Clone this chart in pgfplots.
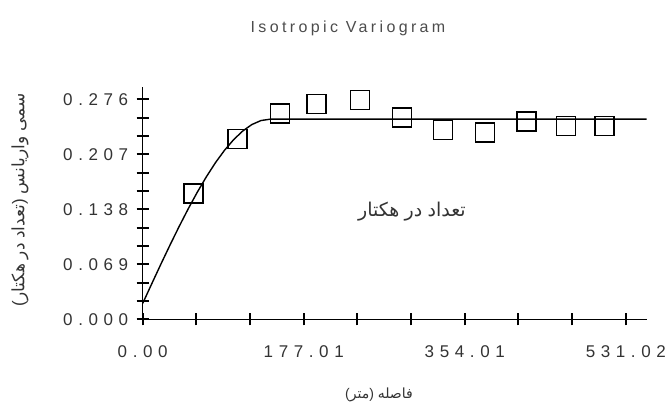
\documentclass[border=0pt]{standalone}
\usepackage{fontspec}
\setmainfont{Liberation Sans}
\newfontfamily\ar[Script=Arabic]{DejaVu Sans}
\newfontfamily\tickfont[LetterSpace=33]{Liberation Sans}
\newfontfamily\titlefont[LetterSpace=21]{Liberation Sans}
\usepackage{pgfplots}
\pgfplotsset{compat=1.18}
\begin{document}
\begin{tikzpicture}
\path[use as bounding box] (0,0) rectangle (665bp,407bp);
\begin{axis}[
  at={(142.7bp,87.7bp)}, anchor=south west,
  scale only axis, width=504bp, height=232bp,
  xmin=0, xmax=554, ymin=0, ymax=0.291,
  axis x line=bottom, axis y line=left,
  axis line style={-, line width=1.5bp, black},
  tick align=center,
  major tick length=12bp,
  tick style={line width=2bp, black},
  xtick={0,59.003,118.007,177.01,236.01,295.02,354.01,413.02,472.02,531.02},
  xticklabels={0.00,,,177.01,,,354.01,,,531.02},
  ytick={0,0.023,0.046,0.069,0.092,0.115,0.138,0.161,0.184,0.207,0.230,0.253,0.276},
  yticklabels={0.000,,,0.069,,,0.138,,,0.207,,,0.276},
  /pgf/number format/assume math mode=true,
  ticklabel style={font=\tickfont\fontsize{17bp}{17bp}\selectfont, text=black!80},
  xticklabel style={yshift=-17bp},
  yticklabel style={xshift=-5bp},
  clip=false,
]
\addplot[black, line width=1.4bp] coordinates {
(0,0.020) (10,0.0447) (20,0.0692) (30,0.0931) (40,0.1163) (50,0.1385)
(60,0.1594) (70,0.1788) (80,0.1965) (90,0.2121) (100,0.2254) (110,0.2362)
(120,0.2443) (130,0.2493) (140,0.251) (554,0.251)
};
\addplot[only marks, mark=square, mark size=9.5bp, mark options={line width=1.6bp, black, fill=none}] coordinates {
(56.0,0.158) (104.4,0.2262) (150.8,0.2584) (191.2,0.2700) (238.7,0.2751)
(284.9,0.2529) (330.3,0.2375) (376.4,0.2341) (421.9,0.2479) (465.1,0.2425)
(507.9,0.2425)
};
\node[font=\fontsize{19bp}{19bp}\selectfont, text=black!80] at (axis cs:296,0.1346) {{\ar هکتار} {\ar در} {\ar تعداد}};
\end{axis}
\node[font=\titlefont\fontsize{16bp}{16bp}\selectfont, text=black!70] at (348bp,379bp) {Isotropic Variogram};
\node[font=\fontsize{14bp}{14bp}\selectfont, text=black!80] at (379bp,12bp) {({\ar متر}) {\ar فاصله}};
\node[rotate=90, font=\fontsize{17bp}{17bp}\selectfont, text=black!80] at (20bp,207bp) {({\ar هکتار} {\ar در} {\ar تعداد}) {\ar واریانس} {\ar سمی}};
\end{tikzpicture}
\end{document}
